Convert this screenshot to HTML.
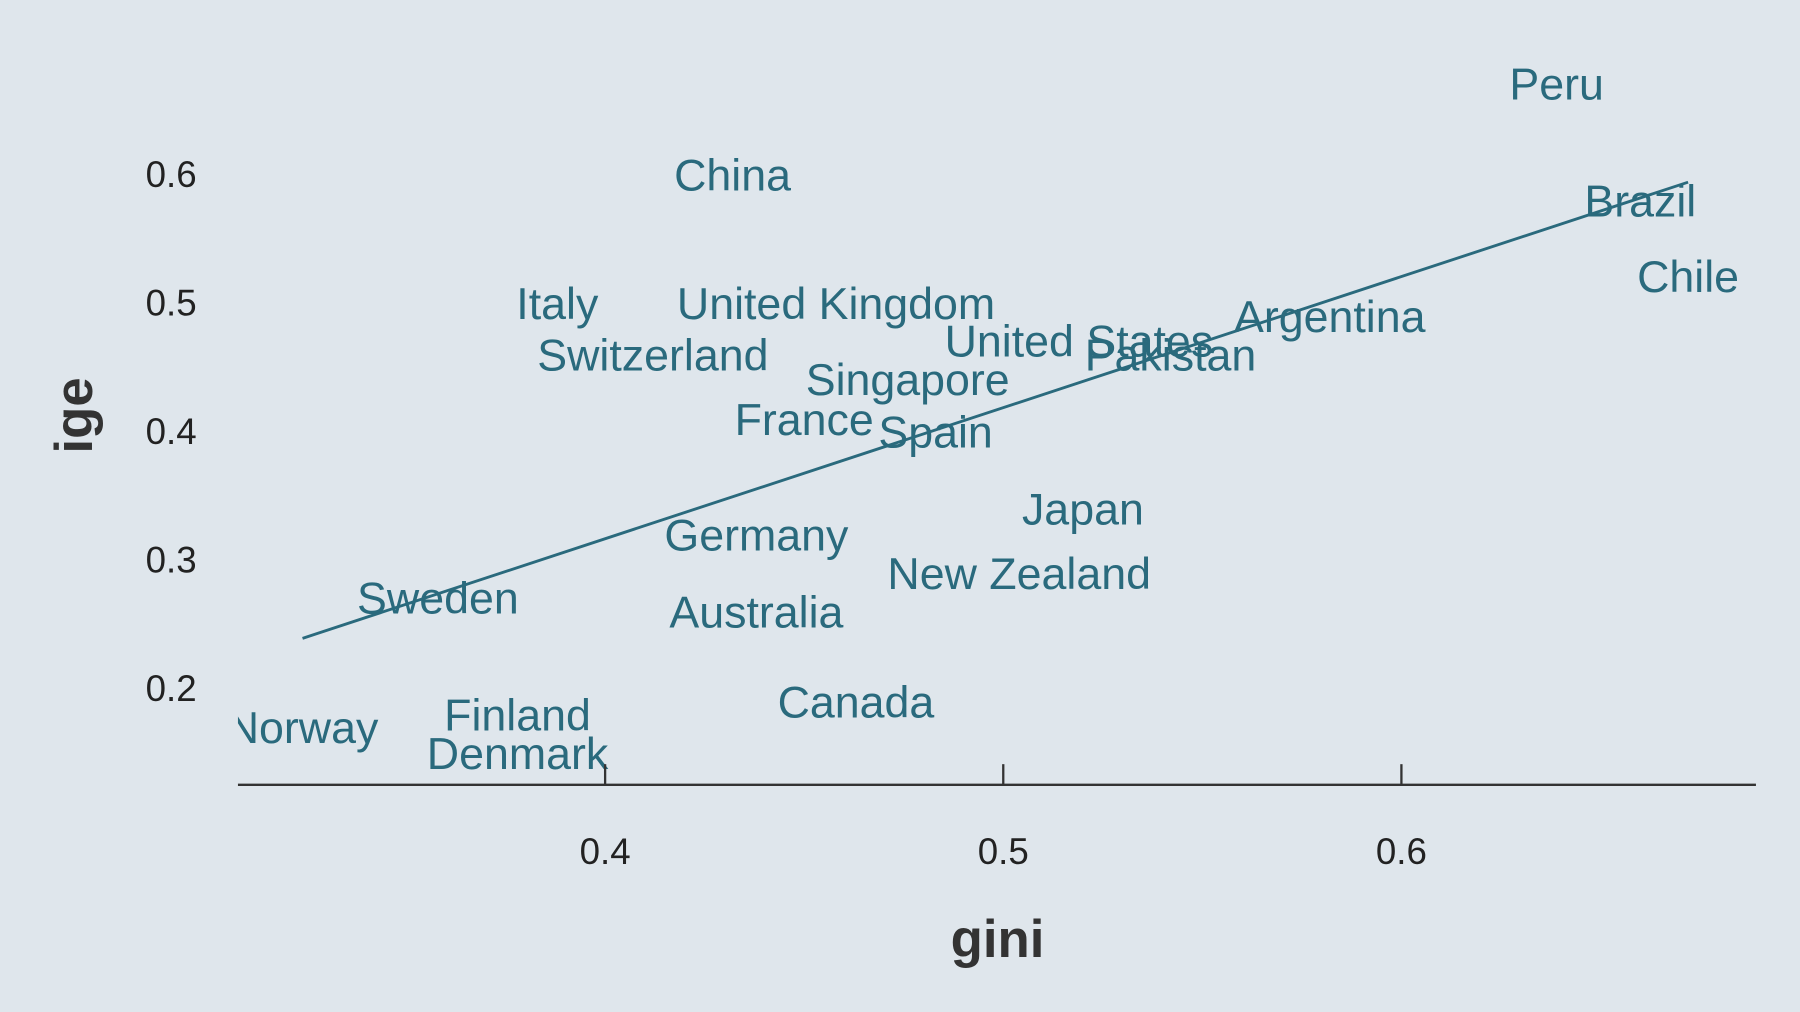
<!DOCTYPE html>
<html><head><meta charset="utf-8"><style>
html,body{margin:0;padding:0;background:#dfe6ec;}
svg{display:block;font-family:"Liberation Sans",Arial,sans-serif;}
</style></head><body>
<svg id="chart" width="1800" height="1012" viewBox="0 0 1568 882" xmlns="http://www.w3.org/2000/svg">
<rect x="0" y="0" width="1568" height="882" fill="#dfe6ec"/>
<defs><clipPath id="clip"><rect x="207" y="0" width="1323" height="684"/></clipPath></defs>
<g id="labels" clip-path="url(#clip)"></g>
<g id="axes"></g>
<text x="869" y="834" text-anchor="middle" font-size="46" font-weight="bold" fill="#333">gini</text>
<text transform="translate(80,362) rotate(-90)" text-anchor="middle" font-size="46" font-weight="bold" fill="#333">ige</text>
</svg>
<script>
const countries=["Peru","China","Brazil","Chile","Italy","United Kingdom","United States","Argentina","Pakistan","Switzerland","Singapore","France","Spain","Japan","Germany","New Zealand","Sweden","Australia","Canada","Finland","Norway","Denmark"];
const giniValues=[0.639,0.432,0.660,0.672,0.388,0.458,0.519,0.582,0.542,0.412,0.476,0.450,0.483,0.520,0.438,0.504,0.358,0.438,0.463,0.378,0.324,0.378];
const igeValues=[0.670,0.599,0.579,0.520,0.499,0.499,0.470,0.489,0.459,0.459,0.440,0.409,0.399,0.339,0.319,0.289,0.270,0.259,0.189,0.179,0.169,0.149];
const xTicks=[0.4,0.5,0.6];
const yTicks=[0.2,0.3,0.4,0.5,0.6];
const fitIntercept=-0.0915, fitSlope=1.02;
const NS="http://www.w3.org/2000/svg";
const sx=v=>527+(v-0.4)*3470;
const sy=v=>152-(v-0.6)*1120;
const lab=document.getElementById('labels');
const ax=document.getElementById('axes');
function mk(tag,attrs,parent){const e=document.createElementNS(NS,tag);for(const k in attrs)e.setAttribute(k,attrs[k]);parent.appendChild(e);return e;}
countries.forEach((c,i)=>{
  const t=mk('text',{x:sx(giniValues[i]),y:sy(igeValues[i])+13,'text-anchor':'middle','font-size':'39',fill:'#2a6a7d'},lab);
  
  
  t.textContent=c;
});
const gmin=Math.min(...giniValues), gmax=Math.max(...giniValues);
const ln=mk('line',{x1:sx(gmin),y1:sy(fitIntercept+fitSlope*gmin),x2:sx(gmax),y2:sy(fitIntercept+fitSlope*gmax),stroke:'#2a6a7d','stroke-width':'2.5'},lab);


const xl=mk('line',{x1:207,y1:684,x2:1530,y2:684,stroke:'#333','stroke-width':'2'},ax);


xTicks.forEach(v=>{
  const tk=mk('line',{x1:sx(v),y1:666,x2:sx(v),y2:684,stroke:'#333','stroke-width':'2'},ax);
  
  
  const t=mk('text',{x:sx(v),y:753,'text-anchor':'middle','font-size':'32',fill:'#222'},ax);
  
  
  t.textContent=v.toFixed(1);
});
yTicks.forEach(v=>{
  const t=mk('text',{x:171,y:sy(v)+11,'text-anchor':'end','font-size':'32',fill:'#222'},ax);
  
  
  t.textContent=v.toFixed(1);
});
</script>
</body></html>
